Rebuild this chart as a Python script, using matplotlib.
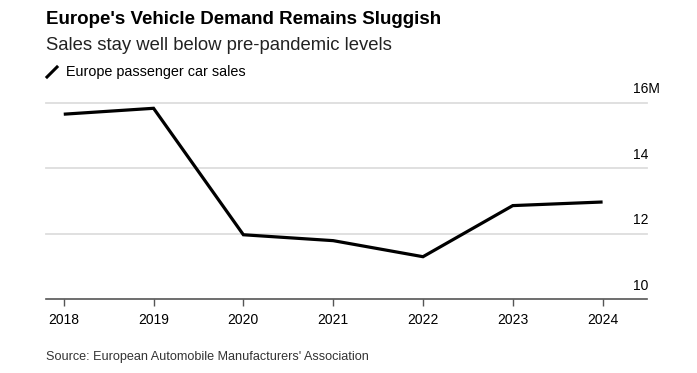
"""
Europe passenger car sales, 2018-2024 (line chart, Bloomberg style).
"""

import numpy as np
import matplotlib

matplotlib.use('Agg')
import matplotlib.pyplot as plt
import matplotlib.transforms as mtransforms

# Data (millions of units)
years = [2018, 2019, 2020, 2021, 2022, 2023, 2024]
sales = [15.65, 15.83, 11.97, 11.79, 11.30, 12.86, 12.97]

y_ticks = [10, 12, 14, 16]
y_tick_labels = ['10', '12', '14', '16M']

title = "Europe's Vehicle Demand Remains Sluggish"
subtitle = 'Sales stay well below pre-pandemic levels'
legend_label = 'Europe passenger car sales'
source = "Source: European Automobile Manufacturers' Association"

plt.rcParams['font.family'] = ['Liberation Sans', 'DejaVu Sans']

fig = plt.figure(figsize=(6.97, 3.73), dpi=100)
ax = fig.add_axes([0.0657, 0.1976, 0.862, 0.527])

# Gridlines
for y in y_ticks[1:]:
  ax.axhline(y, color='#dddddd', linewidth=1.3, zorder=1, clip_on=False)

ax.plot(years, sales, color='black', linewidth=2.3, solid_joinstyle='miter',
        solid_capstyle='butt', zorder=3)

ax.set_xlim(2017.80, 2024.49)
ax.set_ylim(10, 16)

# Axis styling
for side in ['top', 'right', 'left']:
  ax.spines[side].set_visible(False)
ax.spines['bottom'].set_color('#555555')
ax.spines['bottom'].set_linewidth(1.2)

ax.set_xticks(years)
ax.set_xticklabels([str(y) for y in years], fontsize=10, color='black')
ax.tick_params(axis='x', length=5, width=1, color='#555555', pad=5)
ax.set_yticks([])

# Y labels sit above the gridlines on the right
trans = mtransforms.blended_transform_factory(ax.transAxes, ax.transData)
for y, lab in zip(y_ticks, y_tick_labels):
  ax.text(0.977, y + 0.2, lab, transform=trans, ha='left', va='bottom',
          fontsize=10, color='black')

# Header text
fig.text(46 / 697, 1 - 20 / 373, title, fontsize=13.5, fontweight='bold',
         ha='left', va='center', color='black')
fig.text(46 / 697, 1 - 46 / 373, subtitle, fontsize=13.3,
         ha='left', va='center', color='#222222')

# Legend icon (diagonal stroke) and label
fig.add_artist(plt.Line2D([47 / 697, 57 / 697], [1 - 77 / 373, 1 - 67 / 373],
                          color='black', linewidth=2.2, transform=fig.transFigure))
fig.text(66 / 697, 1 - 72 / 373, legend_label, fontsize=10.4,
         ha='left', va='center', color='black')

fig.text(46 / 697, 1 - 357 / 373, source, fontsize=9.1,
         ha='left', va='center', color='#333333')

plt.savefig('out.png', dpi=100)
plt.close()
